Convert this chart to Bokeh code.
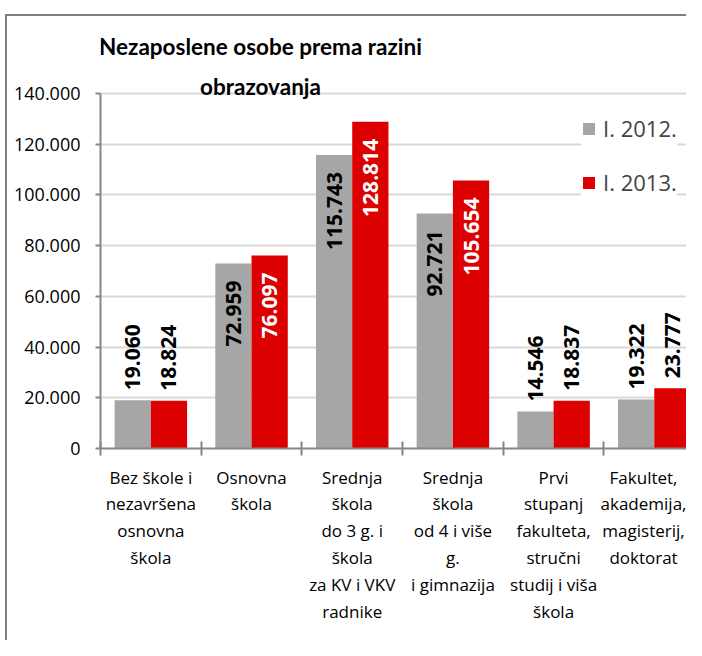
from bokeh.plotting import figure
from bokeh.models import (Range1d, FixedTicker, Label, Legend, LegendItem,
                          ColumnDataSource)
from bokeh.core.properties import value
from bokeh.embed import file_html
from bokeh.resources import INLINE

# ---- data ----
categories = [
    "Bez škole i\nnezavršena\nosnovna\nškola",
    "Osnovna\nškola",
    "Srednja\nškola\ndo 3 g. i\nškola\nza KV i VKV\nradnike",
    "Srednja\nškola\nod 4 i više\ng.\ni gimnazija",
    "Prvi\nstupanj\nfakulteta,\nstručni\nstudij i viša\nškola",
    "Fakultet,\nakademija,\nmagisterij,\ndoktorat",
]
series_names = ["I. 2012.", "I. 2013."]
values_2012 = [19060, 72959, 115743, 92721, 14546, 19322]
values_2013 = [18824, 76097, 128814, 105654, 18837, 23777]
y_ticks = [0, 20000, 40000, 60000, 80000, 100000, 120000, 140000]
title_lines = ["Nezaposlene osobe prema razini", "obrazovanja"]


def fmt(v):
    return f"{v:,}".replace(",", ".")


FONT = "Open Sans"
TFONT = "Lato"
GRAY = "#a6a6a6"
RED = "#dc0000"
AXIS = "#868686"
BORDER = "#7f7f7f"

n = len(categories)
xs = [i + 0.5 for i in range(n)]
bounds = [float(i) for i in range(n + 1)]

p = figure(width=686, height=640, output_backend="svg", toolbar_location=None,
           x_range=Range1d(0, 5.82), y_range=Range1d(0, 176676),
           min_border_left=100, min_border_right=0, min_border_top=0,
           min_border_bottom=192)
p.outline_line_color = None
p.border_fill_color = None
p.background_fill_color = None
p.styles = {
    "background": (f"linear-gradient({BORDER},{BORDER}) 5px 14px / 100% 2px no-repeat, "
                   f"linear-gradient({BORDER},{BORDER}) 5px 14px / 2px 100% no-repeat, white"),
}

# bars
off = 0.18
bw = 0.36
src12 = ColumnDataSource(dict(x=[x - off for x in xs], top=values_2012))
src13 = ColumnDataSource(dict(x=[x + off for x in xs], top=values_2013))
r12 = p.vbar(x="x", top="top", width=bw, source=src12, fill_color=GRAY, line_color=None)
r13 = p.vbar(x="x", top="top", width=bw, source=src13, fill_color=RED, line_color=None)


# data labels
def label_source(xpos, vals, inside_color):
    inside = [v > 50000 for v in vals]
    return ColumnDataSource(dict(
        x=xpos, y=vals, t=[fmt(v) for v in vals],
        align=["right" if i else "left" for i in inside],
        yo=[17 if i else -10 for i in inside],
        col=[inside_color if i else "black" for i in inside],
    ))


for xpos, vals, icol in [([x - off for x in xs], values_2012, "black"),
                         ([x + off for x in xs], values_2013, "white")]:
    s = label_source(xpos, vals, icol)
    p.text(x="x", y="y", text="t", source=s, angle=1.5708, text_align="align",
           text_baseline="middle", y_offset="yo", text_color="col",
           text_font=value(FONT), text_font_size="21px",
           text_font_style="bold")

# axes
p.yaxis.ticker = FixedTicker(ticks=y_ticks)
p.yaxis.bounds = (0, 140000)
p.yaxis.major_label_overrides = {t: fmt(t) for t in y_ticks}
p.yaxis.major_label_text_font = FONT
p.yaxis.major_label_text_font_size = "18px"
p.yaxis.major_label_text_color = "black"
p.yaxis.major_label_standoff = 15
p.yaxis.major_tick_in = 0
p.yaxis.major_tick_out = 5
p.yaxis.minor_tick_line_color = None
p.yaxis.axis_line_color = AXIS
p.yaxis.axis_line_width = 2
p.yaxis.major_tick_line_color = AXIS
p.yaxis.major_tick_line_width = 2

p.xaxis.ticker = FixedTicker(ticks=xs, minor_ticks=bounds)
p.xaxis.major_label_overrides = {x: c for x, c in zip(xs, categories)}
p.xaxis.major_label_text_font = FONT
p.xaxis.major_label_text_font_size = "17px"
p.xaxis.major_label_text_color = "black"
p.xaxis.major_label_text_line_height = 1.17
p.xaxis.major_label_standoff = 10
p.xaxis.major_tick_in = 0
p.xaxis.major_tick_out = 0
p.xaxis.minor_tick_in = 7
p.xaxis.minor_tick_out = 7
p.xaxis.minor_tick_line_color = AXIS
p.xaxis.minor_tick_line_width = 2
p.xaxis.axis_line_color = AXIS
p.xaxis.axis_line_width = 2

p.xgrid.visible = False
p.ygrid.ticker = p.yaxis.ticker
p.ygrid.grid_line_color = "#d9d9d9"
p.ygrid.grid_line_width = 2

# title
for txt, yy in zip(title_lines, [402, 362]):
    p.add_layout(Label(x=160, y=yy, x_units="screen", y_units="screen", text=txt,
                       text_align="center", text_baseline="alphabetic",
                       text_font=TFONT, text_font_style="bold", text_font_size="22.5px",
                       text_color="black"))

# legend
legend = Legend(items=[LegendItem(label=series_names[0], renderers=[r12]),
                       LegendItem(label=series_names[1], renderers=[r13])],
                location=(481, 251), glyph_width=15, glyph_height=15,
                label_standoff=7, spacing=24, padding=4, margin=0,
                label_text_font=FONT, label_text_font_size="22px",
                border_line_color=None, background_fill_color="white",
                background_fill_alpha=1)
p.add_layout(legend)

open("out.html", "w").write(file_html(p, INLINE))
